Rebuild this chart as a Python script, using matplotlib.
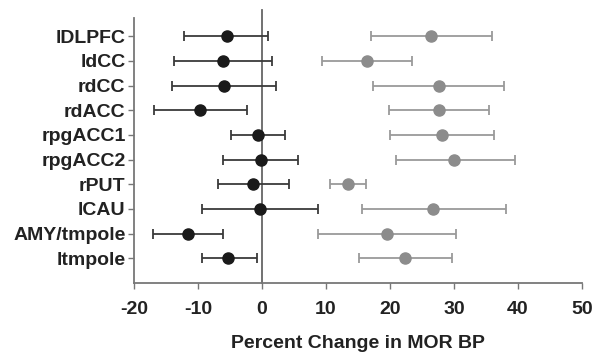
import numpy as np
import matplotlib.pyplot as plt

# Data
regions = ['lDLPFC', 'ldCC', 'rdCC', 'rdACC', 'rpgACC1', 'rpgACC2',
           'rPUT', 'lCAU', 'AMY/tmpole', 'ltmpole']
tick_labels = ['lDLPFC', 'ldCC', 'rdCC', 'rdACC', 'rpgACC1', 'rpgACC2',
               'rPUT', 'lCAU', 'AMY/tmpole', 'ltmpole']

black_mean = [-5.5, -6.1, -5.9, -9.7, -0.6, -0.2, -1.4, -0.3, -11.6, -5.3]
black_low = [-12.1, -13.7, -14.1, -16.8, -4.8, -6.1, -6.8, -9.3, -17.0, -9.4]
black_high = [1.0, 1.6, 2.2, -2.3, 3.6, 5.7, 4.3, 8.8, -6.1, -0.8]

gray_mean = [26.5, 16.4, 27.6, 27.6, 28.1, 30.0, 13.4, 26.8, 19.6, 22.4]
gray_low = [17.1, 9.4, 17.4, 19.8, 20.0, 20.9, 10.6, 15.6, 8.8, 15.2]
gray_high = [35.9, 23.4, 37.9, 35.5, 36.3, 39.5, 16.2, 38.2, 30.4, 29.7]

plt.rcParams['font.family'] = ['Liberation Sans', 'DejaVu Sans']
plt.rcParams['font.weight'] = 'bold'

fig = plt.figure(figsize=(5.95, 3.52), dpi=100)
ax = fig.add_axes([0.225, 0.196, 0.753, 0.753])

y = np.arange(len(regions))[::-1] + 1

bm = np.array(black_mean)
gm = np.array(gray_mean)
berr = [bm - np.array(black_low), np.array(black_high) - bm]
gerr = [gm - np.array(gray_low), np.array(gray_high) - gm]

ax.errorbar(gm, y, xerr=gerr, fmt='o', color='#8c8c8c', ecolor='#9a9a9a',
            markersize=8, capsize=3.5, elinewidth=1.3, capthick=1.3, zorder=3)
ax.errorbar(bm, y, xerr=berr, fmt='o', color='#1a1a1a', ecolor='#3a3a3a',
            markersize=8, capsize=3.5, elinewidth=1.3, capthick=1.3, zorder=3)

# vertical reference line at zero, runs a bit above the axes
ax.plot([0, 0], [0, 11.05], color='#666666', lw=1.3, clip_on=False, zorder=2)

ax.set_xlim(-20, 50)
ax.set_ylim(0, 10.74)
ax.set_xticks([-20, -10, 0, 10, 20, 30, 40, 50])
ax.set_xticklabels(['-20', '-10', '0', '10', '20', '30', '40', '50'],
                   fontsize=14, fontweight='bold', color='#222222')
ax.set_yticks(y)
ax.set_yticklabels(tick_labels, fontsize=14, fontweight='bold', color='#222222')

for s in ['top', 'right']:
    ax.spines[s].set_visible(False)
for s in ['left', 'bottom']:
    ax.spines[s].set_color('#777777')
    ax.spines[s].set_linewidth(1.3)
ax.tick_params(axis='both', direction='out', length=4, width=1, color='#777777')
ax.tick_params(axis='x', pad=9)
ax.tick_params(axis='y', pad=2)

ax.set_xlabel('Percent Change in MOR BP', fontsize=14, fontweight='bold',
              color='#222222', labelpad=12)

fig.savefig('out.png', dpi=100)
